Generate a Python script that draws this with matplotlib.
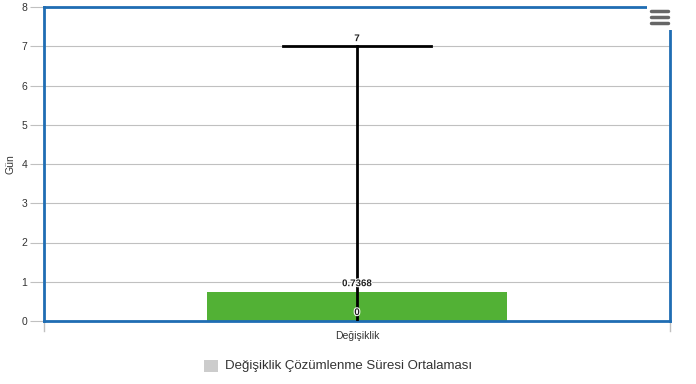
import matplotlib
matplotlib.use("Agg")
import matplotlib.pyplot as plt
from matplotlib.patches import Rectangle
from matplotlib.lines import Line2D
import matplotlib.patheffects as pe

plt.rcParams['font.family'] = ['Liberation Sans', 'DejaVu Sans']

categories = ["Değişiklik"]
means = [0.7368]
err_low = [0]
err_high = [7]
y_ticks = [0, 1, 2, 3, 4, 5, 6, 7, 8]
series_name = "Değişiklik Çözümlenme Süresi Ortalaması"
y_title = "Gün"

fig = plt.figure(figsize=(6.96, 3.84), dpi=100)
ax = fig.add_axes([44/696, 1-321/384, 626/696, 314/384])

halo = [pe.withStroke(linewidth=1.5, foreground="white")]

x = list(range(len(categories)))
ax.bar(x, means, width=0.48, color="#52b135", zorder=2)
for xi, lo, hi in zip(x, err_low, err_high):
    ax.plot([xi, xi], [lo, hi], color="black", lw=2, zorder=3)
    ax.plot([xi - 0.119, xi + 0.119], [hi, hi], color="black", lw=2, zorder=3)
    ax.text(xi, hi + 0.08, str(hi), ha="center", va="bottom", fontsize=7,
            fontweight="bold", color="#222", zorder=4, path_effects=halo)
    ax.text(xi, lo + 0.1, str(lo), ha="center", va="bottom", fontsize=7,
            fontweight="bold", color="#222", zorder=4, path_effects=halo)
for xi, m in zip(x, means):
    ax.text(xi, m + 0.1, f"{m}", ha="center", va="bottom", fontsize=7,
            fontweight="bold", color="#222", zorder=4, path_effects=halo)

ax.set_xlim(-0.5, len(categories) - 0.5)
ax.set_ylim(0, 8)
ax.set_yticks(y_ticks)
ax.set_yticklabels([str(t) for t in y_ticks])
ax.set_xticks(x)
ax.set_xticklabels(categories)
ax.tick_params(axis="y", length=10, color="#c0c0c0", labelsize=7.5, labelcolor="#333", pad=2)
ax.tick_params(axis="x", length=0, labelsize=7.5, labelcolor="#333", pad=7)
for xe in [-0.5, len(categories) - 0.5]:
    ax.plot([xe, xe], [0, -0.25], color="#c0c0c0", lw=1, clip_on=False, zorder=1)
ax.grid(axis="y", color="#c0c0c0", lw=0.8, zorder=0)
ax.set_axisbelow(True)
for s in ax.spines.values():
    s.set_color("#1f6db3")
    s.set_linewidth(2)
fig.text(10/696, 1-164/384, y_title, fontsize=7.5, color="#333", rotation=90,
         ha="center", va="center")

# legend
fig.patches.append(Rectangle((204/696, 1-372/384), 14/696, 12/384, transform=fig.transFigure,
                             facecolor="#cccccc", edgecolor="none"))
fig.text(225/696, 1-366/384, series_name, fontsize=9.5, color="#333", va="center", ha="left")

# menu button
fig.patches.append(Rectangle((647/696, 1-30/384), 26/696, 26/384, transform=fig.transFigure,
                             facecolor="white", edgecolor="none", zorder=10))
for yy in [11, 17, 23]:
    fig.lines.append(Line2D([651/696, 668/696], [1-yy/384, 1-yy/384], transform=fig.transFigure,
                            color="#666666", lw=2.5, solid_capstyle="round", zorder=11))

fig.savefig("out.png", dpi=100)
